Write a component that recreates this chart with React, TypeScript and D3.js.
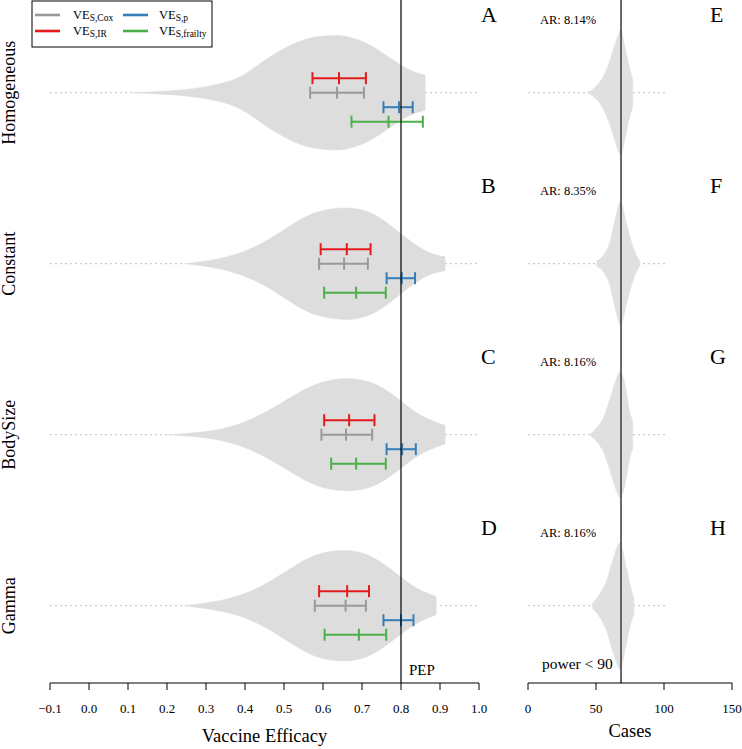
import React from "react";
import * as d3 from "d3";

const scenarios = ["Homogeneous", "Constant", "BodySize", "Gamma"];
const leftLetters = ["A", "B", "C", "D"];
const rightLetters = ["E", "F", "G", "H"];
const attackRates = ["8.14%", "8.35%", "8.16%", "8.16%"];
const veTicks = [-0.1, 0.0, 0.1, 0.2, 0.3, 0.4, 0.5, 0.6, 0.7, 0.8, 0.9, 1.0];
const caseTicks = [0, 50, 100, 150];
const pepValue = 0.8;
const requiredCases = 68.4;

// violin profiles: [VE, relative half-width]
const veViolinA: [number, number][] = [[0.105, 0], [0.2, 0.025], [0.285, 0.075], [0.37, 0.2], [0.41, 0.36], [0.456, 0.59], [0.498, 0.76], [0.541, 0.9], [0.584, 0.97], [0.638, 1], [0.675, 0.95], [0.713, 0.86], [0.755, 0.68], [0.78, 0.56], [0.805, 0.45], [0.831, 0.36], [0.862, 0.3], [0.862, 0.3]];
const veViolinB: [number, number][] = [[0.246, 0], [0.276, 0.02], [0.362, 0.11], [0.447, 0.34], [0.533, 0.74], [0.584, 0.91], [0.661, 0.99], [0.729, 0.9], [0.789, 0.57], [0.84, 0.31], [0.874, 0.17], [0.913, 0.12], [0.913, 0.12]];
const veViolinC: [number, number][] = [[0.203, 0], [0.319, 0.05], [0.404, 0.21], [0.49, 0.52], [0.575, 0.9], [0.665, 1], [0.738, 0.9], [0.797, 0.6], [0.849, 0.31], [0.913, 0.16], [0.913, 0.16]];
const veViolinD: [number, number][] = [[0.246, 0], [0.362, 0.1], [0.447, 0.33], [0.533, 0.72], [0.584, 0.9], [0.651, 0.98], [0.721, 0.9], [0.789, 0.55], [0.84, 0.28], [0.89, 0.16], [0.89, 0.16]];
const veViolins = [veViolinA, veViolinB, veViolinC, veViolinD];

// case-count violin profiles: [cases, relative half-width]
const caseViolinE: [number, number][] = [[43.2, 0], [48, 0.06], [52.9, 0.17], [57.8, 0.37], [62.7, 0.68], [66.4, 0.92], [68.1, 1], [71.3, 0.73], [75, 0.37], [77, 0.22]];
const caseViolinF: [number, number][] = [[50.5, 0.04], [55.4, 0.13], [60.3, 0.35], [64, 0.7], [68.1, 0.98], [72.5, 0.63], [77.5, 0.25], [82.4, 0.03]];
const caseViolinG: [number, number][] = [[45.1, 0], [50.5, 0.11], [55.4, 0.27], [60.3, 0.57], [65.2, 0.9], [67.6, 1], [71.3, 0.81], [75, 0.35], [77, 0.22]];
const caseViolinH: [number, number][] = [[47.3, 0.04], [52.9, 0.19], [57.8, 0.4], [62.7, 0.75], [67.6, 1], [72.5, 0.59], [76.2, 0.24], [77.9, 0.13]];
const caseViolins = [caseViolinE, caseViolinF, caseViolinG, caseViolinH];

// estimates per scenario: lower, point, upper
const coxLo = [0.567, 0.59, 0.596, 0.579];
const coxEst = [0.636, 0.654, 0.659, 0.658];
const coxHi = [0.705, 0.715, 0.726, 0.71];
const irLo = [0.573, 0.594, 0.603, 0.59];
const irEst = [0.641, 0.661, 0.667, 0.662];
const irHi = [0.71, 0.722, 0.732, 0.718];
const pLo = [0.755, 0.763, 0.763, 0.755];
const pEst = [0.795, 0.802, 0.803, 0.8];
const pHi = [0.83, 0.836, 0.838, 0.832];
const frLo = [0.673, 0.603, 0.621, 0.604];
const frEst = [0.768, 0.685, 0.685, 0.692];
const frHi = [0.856, 0.761, 0.761, 0.762];

const methods = [
  { key: "IR", sub: "S,IR", color: "#e41a1c", lo: irLo, est: irEst, hi: irHi, offset: -14.5 },
  { key: "Cox", sub: "S,Cox", color: "#999999", lo: coxLo, est: coxEst, hi: coxHi, offset: 0 },
  { key: "p", sub: "S,p", color: "#377eb8", lo: pLo, est: pEst, hi: pHi, offset: 14.5 },
  { key: "frailty", sub: "S,frailty", color: "#4daf4a", lo: frLo, est: frEst, hi: frHi, offset: 29 },
];

const FONT = "'Liberation Serif', 'Times New Roman', Times, serif";

export default function App() {
  const W = 742, H = 749;
  const axisY = 683;
  const xVE = d3.scaleLinear().domain([-0.1, 1.0]).range([50, 479]);
  const xC = d3.scaleLinear().domain([0, 150]).range([528, 732]);
  const yC = d3.scaleLinear().domain([0, 3]).range([92.7, 605.7]);
  const hwL = d3.scaleLinear().domain([0, 1]).range([0, 58]);
  const hwR = d3.scaleLinear().domain([0, 1]).range([0, 63]);

  const leftArea = (cy: number) =>
    d3.area<[number, number]>()
      .x((d) => xVE(d[0]))
      .y0((d) => cy + hwL(d[1]))
      .y1((d) => cy - hwL(d[1]))
      .curve(d3.curveBasis);
  const rightArea = (cy: number) =>
    d3.area<[number, number]>()
      .x((d) => xC(d[0]))
      .y0((d) => cy + hwR(d[1]))
      .y1((d) => cy - hwR(d[1]))
      .curve(d3.curveMonotoneX);

  const cap = 6;
  const legendCols = [
    [methods[1], methods[0]],
    [methods[2], methods[3]],
  ];

  return (
    <svg width={W} height={H} style={{ position: "absolute", left: 0, top: 0, background: "#fff", fontFamily: FONT }}>
      <rect x={0} y={0} width={W} height={H} fill="#fff" />
      {scenarios.map((s, i) => {
        const cy = yC(i);
        return (
          <g key={s}>
            <line x1={xVE(-0.1)} x2={xVE(1.0)} y1={cy} y2={cy} stroke="#bdbdbd" strokeDasharray="2,3" strokeWidth={1} />
            <line x1={xC(0)} x2={xC(101)} y1={cy} y2={cy} stroke="#bdbdbd" strokeDasharray="2,3" strokeWidth={1} />
            <path d={leftArea(cy)(veViolins[i]) || ""} fill="#dddddd" stroke="#dddddd" strokeWidth={0.5} />
            <path d={rightArea(cy)(caseViolins[i]) || ""} fill="#e0e0e0" stroke="#e0e0e0" strokeWidth={0.5} />
            {methods.map((m) => {
              const y = cy + m.offset;
              return (
                <g key={m.key} stroke={m.color} strokeWidth={2}>
                  <line x1={xVE(m.lo[i])} x2={xVE(m.hi[i])} y1={y} y2={y} />
                  <line x1={xVE(m.lo[i])} x2={xVE(m.lo[i])} y1={y - cap} y2={y + cap} />
                  <line x1={xVE(m.est[i])} x2={xVE(m.est[i])} y1={y - cap} y2={y + cap} />
                  <line x1={xVE(m.hi[i])} x2={xVE(m.hi[i])} y1={y - cap} y2={y + cap} />
                </g>
              );
            })}
            <text transform={`translate(15,${cy}) rotate(-90)`} textAnchor="middle" fontSize={18}>{s}</text>
            <text x={481} y={cy - 71} fontSize={22}>{leftLetters[i]}</text>
            <text x={710} y={cy - 71} fontSize={22}>{rightLetters[i]}</text>
            <text x={540} y={cy - 69} fontSize={12.5}>{`AR: ${attackRates[i]}`}</text>
          </g>
        );
      })}

      <line x1={xVE(pepValue)} x2={xVE(pepValue)} y1={0} y2={axisY} stroke="#000" strokeWidth={1.2} />
      <line x1={xC(requiredCases)} x2={xC(requiredCases)} y1={0} y2={axisY} stroke="#444" strokeWidth={1.6} />
      <text x={xVE(pepValue) + 8} y={675} fontSize={15}>PEP</text>
      <text x={542} y={669} fontSize={15.5}>power &lt; 90</text>

      <line x1={xVE(-0.1)} x2={xVE(1.0)} y1={axisY} y2={axisY} stroke="#000" />
      {veTicks.map((t) => (
        <g key={t}>
          <line x1={xVE(t)} x2={xVE(t)} y1={axisY} y2={axisY + 7} stroke="#000" />
          <text x={xVE(t)} y={713} textAnchor="middle" fontSize={13}>{d3.format(".1f")(t)}</text>
        </g>
      ))}
      <text x={(xVE(-0.1) + xVE(1.0)) / 2} y={742} textAnchor="middle" fontSize={18.5}>Vaccine Efficacy</text>

      <line x1={xC(0)} x2={xC(150)} y1={axisY} y2={axisY} stroke="#000" />
      {caseTicks.map((t) => (
        <g key={t}>
          <line x1={xC(t)} x2={xC(t)} y1={axisY} y2={axisY + 7} stroke="#000" />
          <text x={xC(t)} y={713} textAnchor="middle" fontSize={13}>{String(t)}</text>
        </g>
      ))}
      <text x={(xC(0) + xC(150)) / 2} y={737} textAnchor="middle" fontSize={18.5}>Cases</text>

      <rect x={32} y={1} width={180} height={46} fill="#fff" stroke="#000" strokeWidth={1} />
      {legendCols.map((col, ci) =>
        col.map((m, ri) => {
          const lx = ci === 0 ? 35 : 123;
          const tx = ci === 0 ? 73 : 159;
          const ly = 15 + ri * 16;
          return (
            <g key={m.key}>
              <line x1={lx} x2={lx + 25} y1={ly} y2={ly} stroke={m.color} strokeWidth={2.6} />
              <text x={tx} y={ly + 3.5} fontSize={12.5}>
                VE<tspan fontSize={9.5} dy={2.5}>{m.sub}</tspan>
              </text>
            </g>
          );
        })
      )}
    </svg>
  );
}
